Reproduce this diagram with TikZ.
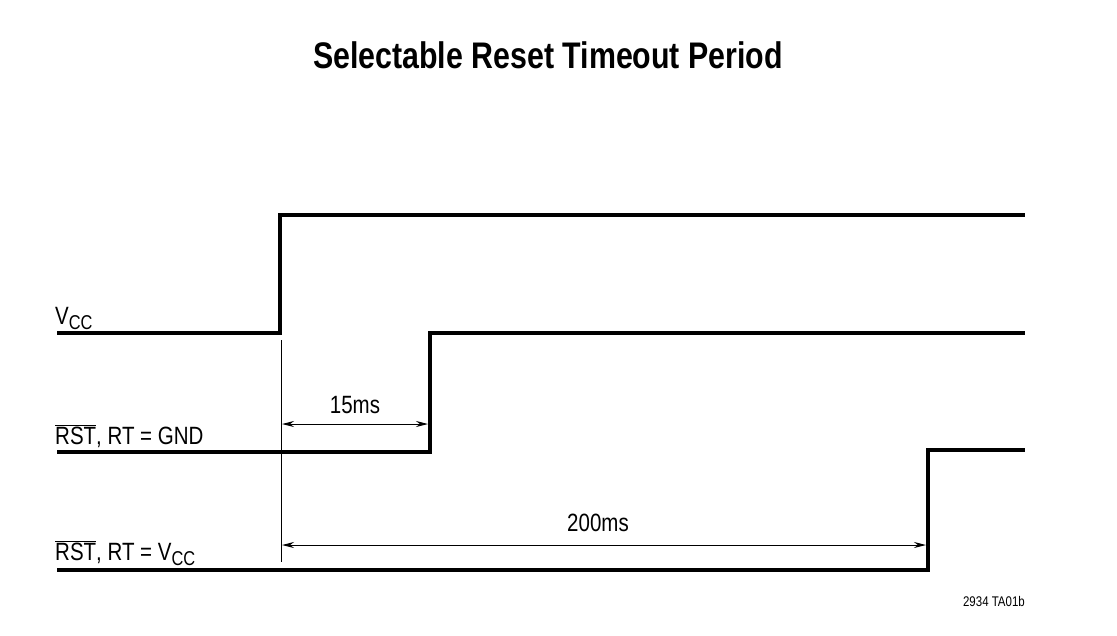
\documentclass[tikz,border=0pt]{standalone}
\usepackage{fontspec}
\setmainfont{Liberation Sans}[FakeStretch=0.82]
\usetikzlibrary{arrows.meta}
\begin{document}
\begin{tikzpicture}[x=1pt,y=-1pt,
  sig/.style={line width=4pt,line join=miter},
  dim/.style={line width=1pt,{Stealth[length=12pt,width=6pt]}-{Stealth[length=12pt,width=6pt]}},
  lbl/.style={anchor=base west,inner sep=0pt,font=\fontsize{25}{28}\selectfont}]
\useasboundingbox (0,0) rectangle (1117,635);
\node[font=\fontsize{37}{40}\selectfont\bfseries] (title) at (548,55) {Selectable Reset Timeout Period};
\coordinate (v0) at (57,333); \coordinate (v1) at (280,333); \coordinate (v2) at (280,215); \coordinate (v3) at (1025,215);
\draw[sig] (v0) -- (v1) -- (v2) -- (v3);
\coordinate (g0) at (57,452); \coordinate (g1) at (430,452); \coordinate (g2) at (430,333); \coordinate (g3) at (1025,333);
\draw[sig] (g0) -- (g1) -- (g2) -- (g3);
\coordinate (c0) at (57,570); \coordinate (c1) at (928,570); \coordinate (c2) at (928,450); \coordinate (c3) at (1025,450);
\draw[sig] (c0) -- (c1) -- (c2) -- (c3);
\coordinate (m0) at (281,340); \coordinate (m1) at (281,562);
\draw[line width=1pt] (m0) -- (m1);
\coordinate (a0) at (282,424); \coordinate (a1) at (428,424);
\draw[dim] (a0) -- (a1);
\coordinate (b0) at (282,545); \coordinate (b1) at (926,545);
\draw[dim] (b0) -- (b1);
\node[lbl,anchor=base] (t15) at (355,413) {15ms};
\node[lbl,anchor=base] (t200) at (598,531) {200ms};
\node[lbl] (lv) at (55,324) {V\raisebox{-5pt}{\fontsize{20}{22}\selectfont CC}};
\node[lbl] (lg) at (55,444) {$\overline{\mbox{RST}}$, RT = GND};
\node[lbl] (lc) at (55,560) {$\overline{\mbox{RST}}$, RT = V\raisebox{-5pt}{\fontsize{20}{22}\selectfont CC}};
\node[anchor=base east,inner sep=0pt,font=\fontsize{14}{16}\selectfont] (ref) at (1025,606) {2934 TA01b};
\end{tikzpicture}
\end{document}
